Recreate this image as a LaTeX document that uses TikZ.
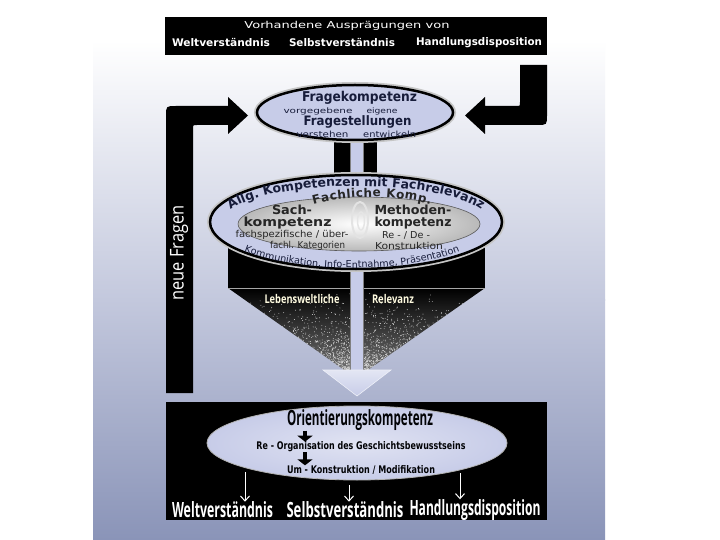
\documentclass[tikz,border=0pt]{standalone}
\usepackage{fontspec}
\setmainfont{DejaVu Sans}
\newfontfamily\cond{Open Sans}[FakeStretch=0.8]
\usetikzlibrary{decorations.text, arrows.meta, shapes.geometric, calc}
\definecolor{lav}{HTML}{C7CCE8}
\definecolor{navy}{HTML}{171C3A}
\definecolor{bgb}{HTML}{8A94B8}
\definecolor{bgm}{HTML}{C3C8DD}
\definecolor{pale}{HTML}{FFFBE0}
\newcommand\fw[2]{\resizebox{#1}{\height}{#2}}
\newcommand\gp{\kern0.5pt}
\begin{document}
\begin{tikzpicture}[x=1pt,y=-1pt,
  txt/.style={inner sep=0pt, anchor=center},
  dk/.style={txt, text=navy},
  wt/.style={txt, text=white},
  halo/.style={preaction={draw=gray!45, line width=6pt}},
  blkarrow/.style={line width=4pt, -{Triangle[width=15pt,length=6pt]}},
  whtarrow/.style={white, line width=1pt, -{Straight Barb[length=5pt,width=9pt]}},
  arctext/.style={decorate, decoration={text along path, text align=center, text={#1}}}]
\useasboundingbox (0,0) rectangle (720,540);
% background
\fill[white] (0,0) rectangle (720,540);
\shade[top color=white, bottom color=bgm] (93,40) rectangle (605,300);
\shade[top color=bgm, bottom color=bgb] (93,299.5) rectangle (605,540);
% top box
\node[fill=black, minimum width=382pt, minimum height=38pt, inner sep=0pt] (topbox) at (356,36) {};
\node[wt, font=\fontsize{9.5}{9.5}\selectfont] (vorh) at (347,26) {\fw{205pt}{Vorhandene Ausprägungen von}};
\node[wt, font=\fontsize{10.5}{10.5}\selectfont\bfseries] (tw1) at (221,43) {\fw{98pt}{Weltverständnis}};
\node[wt, font=\fontsize{10.5}{10.5}\selectfont\bfseries] (tw2) at (342,43) {\fw{106pt}{Selbstverständnis}};
\node[wt, font=\fontsize{10.5}{10.5}\selectfont\bfseries] (tw3) at (479,43) {\fw{126pt}{Handlungsdisposition}};
% left feedback arrow
\fill[black] (166,393) -- (166,116) .. controls (166,106) .. (176,106) -- (228,106) -- (228,97) -- (248,115.5) -- (228,134) -- (228,125) -- (197,125) .. controls (193,125) .. (193,129) -- (193,393) -- cycle;
\node[wt, rotate=90, font=\cond\fontsize{19}{19}\selectfont] (neue) at (179,253) {\fw{95pt}{neue Fragen}};
% right arrow
\fill[black] (520,65) -- (547,65) -- (547,115) .. controls (547,125) .. (537,125) -- (485,125) -- (485,134) -- (465,115.5) -- (485,97) -- (485,106) -- (516,106) .. controls (520,106) .. (520,102) -- cycle;
% stem
\fill[black] (334,135) rectangle (377,185);
% band and funnel
\fill[black] (228,235) rectangle (485,288);
\shade[top color=black, bottom color=black!55] (228,288) -- (485,288) -- (365,372) -- (347,372) -- cycle;
\pgfmathsetseed{42}
\foreach \i in {1,...,1500}{
  \pgfmathsetmacro\v{rnd^0.4}
  \pgfmathsetmacro\u{rnd}
  \pgfmathsetmacro\yy{288+\v*84}
  \pgfmathsetmacro\xl{228+\v*119}
  \pgfmathsetmacro\xr{485-\v*120}
  \pgfmathsetmacro\xx{\xl+\u*(\xr-\xl)}
  \fill[white!70!gray] (\xx,\yy) circle[radius=0.45pt];
}
\draw[gray!70, line width=0.7pt] (228,288) -- (485,288);
\node[txt, text=pale, font=\cond\fontsize{12}{12}\selectfont\bfseries] (leb) at (302,299) {\fw{75pt}{Lebensweltliche}};
\node[txt, text=pale, font=\cond\fontsize{12}{12}\selectfont\bfseries] (rel) at (393,299) {\fw{42pt}{Relevanz}};
% shaft
\filldraw[fill=lav, draw=black!50, line width=0.5pt] (350,138) rectangle (363,372);
% Fragekompetenz ellipse
\node[ellipse, draw=black, line width=2.5pt, fill=lav, halo, minimum width=196pt, minimum height=55pt, inner sep=0pt] (frage) at (355,112.5) {};
\node[dk, font=\fontsize{13.5}{13.5}\selectfont\bfseries] (fk1) at (359.5,98) {\fw{115pt}{Fragekompetenz}};
\node[dk, font=\fontsize{7.5}{7.5}\selectfont] (fk2) at (318,111) {\fw{69pt}{vorgegebene}};
\node[dk, font=\fontsize{7.5}{7.5}\selectfont] (fk3) at (382,111) {\fw{31pt}{eigene}};
\node[dk, font=\fontsize{13}{13}\selectfont\bfseries] (fk4) at (357.5,122) {\fw{108pt}{Fragestellungen}};
\node[dk, font=\fontsize{8.5}{8.5}\selectfont] (fk5) at (322.5,134) {\fw{52pt}{verstehen}};
\node[dk, font=\fontsize{8.5}{8.5}\selectfont] (fk6) at (389.7,134) {\fw{53pt}{entwickeln}};
% Allg. Kompetenzen ellipse
\node[ellipse, draw=black, line width=2.5pt, fill=lav, halo, minimum width=292pt, minimum height=94pt, inner sep=0pt] (allg) at (356,222) {};
\node[ellipse, draw=gray!70!black, line width=0.6pt, inner color=white, outer color=gray!55, minimum width=242pt, minimum height=54pt, inner sep=0pt] (fach) at (359,224) {};
\draw[gray!22, line width=2pt] (360,220) ellipse [x radius=8pt, y radius=18pt];
\draw[gray!20, line width=1.5pt] (361,221) ellipse [x radius=3.5pt, y radius=9pt];
\begin{scope}[shift={(356,222)}]
\path[arctext={|\color{navy}\fontsize{12.5}{12.5}\selectfont\bfseries|Allg. Kompetenzen mit Fachrelevanz}]
  (184:133pt and 36pt) arc[start angle=184, end angle=-4, x radius=133pt, y radius=36pt];
\end{scope}
\begin{scope}[shift={(352,222)}]
\path[arctext={|\color{navy}\fontsize{9.6}{9.6}\selectfont|Kommunikation, Info-Entnahme, Präsentation}]
  (200:140pt and 46pt) arc[start angle=200, end angle=340, x radius=140pt, y radius=46pt];
\end{scope}
\begin{scope}[shift={(372,227)}]
\path[arctext={|\color{black!85}\fontsize{12}{12}\selectfont\bfseries|F{\gp}a{\gp}c{\gp}h{\gp}l{\gp}i{\gp}c{\gp}h{\gp}e{\gp} {\gp}K{\gp}o{\gp}m{\gp}p{\gp}.}]
  (165:90pt and 30pt) arc[start angle=165, end angle=15, x radius=90pt, y radius=30pt];
\end{scope}
\node[txt, text=black!85, font=\fontsize{12.5}{12.5}\selectfont\bfseries] (sach) at (292,210) {\fw{40pt}{Sach-}};
\node[txt, text=black!85, font=\fontsize{12.5}{12.5}\selectfont\bfseries] (kompL) at (287.5,223) {\fw{88pt}{kompetenz}};
\node[txt, text=black!85, font=\fontsize{9.5}{9.5}\selectfont] (fachsp) at (292,235) {\fw{113pt}{fachspezifische / über-}};
\node[txt, text=black!85, font=\fontsize{9.5}{9.5}\selectfont] (fachl) at (307.5,246) {\fw{75pt}{fachl. Kategorien}};
\node[txt, text=black!85, font=\fontsize{12.5}{12.5}\selectfont\bfseries] (meth) at (413,210) {\fw{77pt}{Methoden-}};
\node[txt, text=black!85, font=\fontsize{12.5}{12.5}\selectfont\bfseries] (kompR) at (413,223) {\fw{77pt}{kompetenz}};
\node[txt, text=black!85, font=\fontsize{9.5}{9.5}\selectfont] (rede) at (406,235) {\fw{48pt}{Re - / De -}};
\node[txt, text=black!85, font=\fontsize{9.5}{9.5}\selectfont] (konst) at (409,246) {\fw{68pt}{Konstruktion}};
% arrow head
\shade[top color=lav!50!white, bottom color=lav, draw=white!70!lav, line width=0.6pt] (323,370) -- (391,370) -- (357,396) -- cycle;
% bottom box
\node[fill=black, minimum width=381pt, minimum height=118pt, inner sep=0pt] (botbox) at (356.5,461) {};
\node[ellipse, draw=gray!60!white, line width=0.8pt, inner color=lav!55!white, outer color=lav, minimum width=300pt, minimum height=74pt, inner sep=0pt] (orient) at (357,443) {};
\node[txt, text=black!90!navy, font=\cond\fontsize{21}{21}\selectfont\bfseries] (orientT) at (360,420) {\fw{146pt}{Orientierungskompetenz}};
\node[txt, text=black!90!navy, font=\fontsize{10.5}{10.5}\selectfont\bfseries] (reorg) at (361,447) {\fw{209pt}{Re - Organisation des Geschichtsbewusstseins}};
\node[txt, text=black!90!navy, font=\fontsize{10.5}{10.5}\selectfont\bfseries] (umk) at (361,470) {\fw{148pt}{Um - Konstruktion / Modifikation}};
\coordinate (ax) at (305,0);
\draw[blkarrow] (orientT.south -| ax) -- (reorg.north -| ax);
\draw[blkarrow] (reorg.south -| ax) -- (umk.north -| ax);
\node[wt, font=\cond\fontsize{21}{21}\selectfont\bfseries] (bw1) at (222.5,510) {\fw{101pt}{Weltverständnis}};
\node[wt, font=\cond\fontsize{21}{21}\selectfont\bfseries] (bw2) at (345,510) {\fw{117pt}{Selbstverständnis}};
\node[wt, font=\cond\fontsize{21}{21}\selectfont\bfseries] (bw3) at (475,510) {\fw{131pt}{Handlungsdisposition}};
\coordinate (s1) at (245,472);
\coordinate (s2) at (349,485);
\coordinate (s3) at (460,473);
\draw[whtarrow] (s1) -- (s1 |- bw1.north);
\draw[whtarrow] (s2) -- (s2 |- bw2.north);
\draw[whtarrow] (s3) -- (s3 |- bw3.north);
\end{tikzpicture}
\end{document}
